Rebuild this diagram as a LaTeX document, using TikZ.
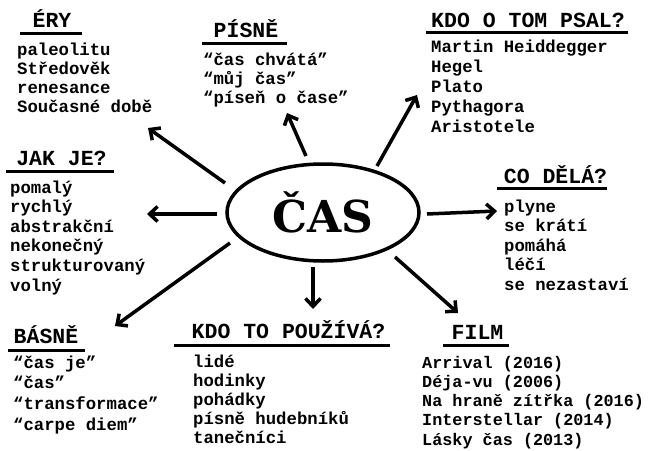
\documentclass[tikz,border=0pt]{standalone}
\usepackage{fontspec}
\setmainfont{Liberation Mono}
\newfontfamily\casfont{DejaVu Serif}
\usetikzlibrary{arrows.meta,shapes.geometric}
\tikzset{
  item/.style={font=\fontsize{17.3}{19}\selectfont\bfseries, anchor=base west, inner sep=0pt},
  smallitem/.style={item, font=\fontsize{16.8}{19}\selectfont\bfseries},
  head/.style={font=\fontsize{21.5}{24}\selectfont\bfseries, anchor=base, inner sep=0pt},
  uline/.style={line width=3pt},
  conn/.style={line width=3.5pt, -{Straight Barb[length=8pt,width=15pt,line width=3.5pt]}},
  center/.style={ellipse, draw, line width=3.5pt, minimum width=192pt, minimum height=97pt, inner sep=0pt}
}
\begin{document}
\begin{tikzpicture}[x=1pt,y=-1pt]
\useasboundingbox[fill=white] (0,0) rectangle (648,450);
% center
\node[center] (casbox) at (323,212.5) {};
\node[font=\fontsize{44}{48}\selectfont\casfont\bfseries, anchor=base, inner sep=0pt] (cas) at (323,232) {ČAS};

% headings
\node[head] (hera) at (52,27) {ÉRY};
\draw[uline] (20,33) -- (82,33);
\node[head] (hpis) at (246,37) {PÍSNĚ};
\draw[uline] (202,43) -- (287,43);
\node[head] (hkdo) at (528,27) {KDO O TOM PSAL?};
\draw[uline] (426,32) -- (628,32);
\node[head] (hjak) at (61.5,165) {JAK JE?};
\draw[uline] (6,171) -- (114,171);
\node[head] (hco) at (555.5,183) {CO DĚLÁ?};
\draw[uline] (497,188) -- (607,188);
\node[head] (hbas) at (46,343) {BÁSNĚ};
\draw[uline] (8,350) -- (85,350);
\node[head] (hpou) at (288.5,338) {KDO TO POUŽÍVÁ?};
\draw[uline] (174,345) -- (390,345);
\node[head] (hfil) at (477.5,339) {FILM};
\draw[uline] (443,345) -- (509,345);

% lists
\foreach \t [count=\i] in {paleolitu,Středověk,renesance,Současné době}
  \node[item] (era\i) at (17,55+19.3*\i-19.3) {\t};
\foreach \t [count=\i] in {“čas chvátá”,“můj čas”,“píseň o čase”}
  \node[item] (pis\i) at (203,65+19*\i-19) {\t};
\foreach \t [count=\i] in {Martin Heiddegger,Hegel,Plato,Pythagora,Aristotele}
  \node[item] (kdo\i) at (431,52+20*\i-20) {\t};
\foreach \t [count=\i] in {pomalý,rychlý,abstrakční,nekonečný,strukturovaný,volný}
  \node[item] (jak\i) at (10,193+19.6*\i-19.6) {\t};
\foreach \t [count=\i] in {plyne,se krátí,pomáhá,léčí,se nezastaví}
  \node[item] (co\i) at (504,212+19.5*\i-19.5) {\t};
\foreach \t [count=\i] in {“čas je”,“čas”,“transformace”,“carpe diem”}
  \node[item] (bas\i) at (13,368+20.7*\i-20.7) {\t};
\foreach \t [count=\i] in {lidé,hodinky,pohádky,písně hudebníků,tanečníci}
  \node[item] (pou\i) at (193,367+19*\i-19) {\t};
\foreach \t [count=\i] in {Arrival (2016),Déja-vu (2006),Na hraně zítřka (2016),Interstellar (2014),Lásky čas (2013)}
  \node[smallitem] (fil\i) at (422,368+19.3*\i-19.3) {\t};

% connector ends
\coordinate (s1) at (225,183); \coordinate (t1) at (148,128);
\coordinate (s2) at (306,156); \coordinate (t2) at (287,113);
\coordinate (s3) at (377,166); \coordinate (t3) at (417,95);
\coordinate (s4) at (217,214); \coordinate (t4) at (147,214);
\coordinate (s5) at (427,214); \coordinate (t5) at (497,211);
\coordinate (s6) at (230,243); \coordinate (t6) at (115,326);
\coordinate (s7) at (313,267); \coordinate (t7) at (313,309);
\coordinate (s8) at (395,257); \coordinate (t8) at (458,313);
\foreach \k in {1,...,8}
  \draw[conn] (s\k) -- (t\k);
\end{tikzpicture}
\end{document}
